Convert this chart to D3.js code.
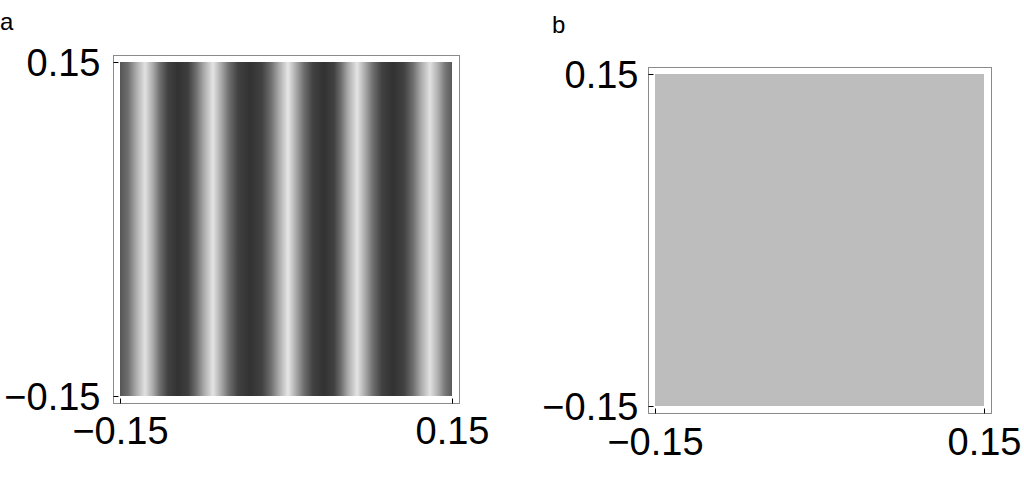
<!DOCTYPE html>
<html>
<head>
<meta charset="utf-8">
<script src="https://cdn.jsdelivr.net/npm/d3@7"></script>
<style>
  html, body { margin: 0; padding: 0; background: #fff; }
  svg { display: block; font-family: "Liberation Sans", Arial, sans-serif; }
</style>
</head>
<body>
<svg id="chart" width="1024" height="488"></svg>
<script>
// ---- data ----
const panelLabels = ["a", "b"];
const axisDomain = [-0.15, 0.15];
const tickValues = [-0.15, 0.15];
const tickLabels = ["\u22120.15", "0.15"];

// panel a: horizontal intensity profile of the vertical fringes (x in data units, gray 0-255)
const fringeX = [-0.1500, -0.1428, -0.1355, -0.1274, -0.1202, -0.1139, -0.1066, -0.0976,
  -0.0886, -0.0813, -0.0741, -0.0660, -0.0587, -0.0515, -0.0434, -0.0325,
  -0.0217, -0.0136, -0.0063, 0.0018, 0.0090, 0.0163, 0.0244, 0.0343,
  0.0434, 0.0497, 0.0560, 0.0642, 0.0714, 0.0786, 0.0867, 0.0967,
  0.1066, 0.1148, 0.1220, 0.1301, 0.1373, 0.1437, 0.1500];
const fringeGray = [85, 110, 170, 225, 170, 110, 65, 50,
  62, 110, 170, 228, 170, 110, 65, 50,
  65, 110, 170, 230, 170, 110, 65, 50,
  65, 110, 170, 228, 170, 110, 65, 50,
  65, 110, 170, 225, 175, 120, 90];

// panel b: uniform intensity
const uniformGray = 189;

// ---- layout ----
const svg = d3.select("#chart");
const defs = svg.append("defs");

const panels = [
  { label: panelLabels[0], lx: 0, ly: 30, x0: 120, x1: 452, y0: 62, y1: 396, pad: 7, ylabGap: 13, xlabBase: 40, kind: "fringe" },
  { label: panelLabels[1], lx: 552, ly: 33, x0: 655, x1: 984, y0: 74, y1: 406, pad: 7, ylabGap: 10, xlabBase: 41, kind: "uniform" }
];

panels.forEach((p, i) => {
  const x = d3.scaleLinear().domain(axisDomain).range([p.x0, p.x1]);
  const y = d3.scaleLinear().domain(axisDomain).range([p.y1, p.y0]);
  const g = svg.append("g");

  // panel letter
  g.append("text").attr("x", p.lx).attr("y", p.ly)
    .attr("font-size", 24).attr("fill", "#000").text(p.label);

  const fx0 = p.x0 - p.pad, fx1 = p.x1 + p.pad, fy0 = p.y0 - p.pad, fy1 = p.y1 + p.pad;

  // image
  if (p.kind === "fringe") {
    const gid = "fringe" + i;
    const grad = defs.append("linearGradient").attr("id", gid)
      .attr("gradientUnits", "userSpaceOnUse")
      .attr("x1", x(axisDomain[0])).attr("x2", x(axisDomain[1]))
      .attr("y1", 0).attr("y2", 0);
    const span = x(axisDomain[1]) - x(axisDomain[0]);
    fringeX.forEach((v, k) => {
      const gv = fringeGray[k];
      grad.append("stop")
        .attr("offset", (x(v) - x(axisDomain[0])) / span)
        .attr("stop-color", d3.rgb(gv, gv, gv).formatHex());
    });
    g.append("rect")
      .attr("x", x(axisDomain[0])).attr("y", y(axisDomain[1]))
      .attr("width", x(axisDomain[1]) - x(axisDomain[0]))
      .attr("height", y(axisDomain[0]) - y(axisDomain[1]))
      .attr("fill", `url(#${gid})`);
  } else {
    g.append("rect")
      .attr("x", x(axisDomain[0])).attr("y", y(axisDomain[1]))
      .attr("width", x(axisDomain[1]) - x(axisDomain[0]))
      .attr("height", y(axisDomain[0]) - y(axisDomain[1]))
      .attr("fill", d3.rgb(uniformGray, uniformGray, uniformGray).formatHex());
  }

  // frame
  g.append("rect")
    .attr("x", fx0 + 0.5).attr("y", fy0 + 0.5)
    .attr("width", fx1 - fx0).attr("height", fy1 - fy0)
    .attr("fill", "none").attr("stroke", "#8a8a8a").attr("stroke-width", 1);

  const fmt = d => tickLabels[tickValues.indexOf(d)];

  // left axis
  const ya = g.append("g").attr("transform", `translate(${fx0 + 0.5},0)`)
    .call(d3.axisLeft(y).tickValues(tickValues).tickFormat(fmt)
      .tickSizeInner(-5).tickSizeOuter(0).tickPadding(p.ylabGap));
  ya.select(".domain").remove();
  ya.selectAll(".tick line").attr("stroke", "#000");
  ya.selectAll(".tick text").attr("font-size", 38).attr("fill", "#000")
    .attr("font-family", "Liberation Sans, Arial, sans-serif").attr("dy", "0.36em");

  // bottom axis
  const xa = g.append("g").attr("transform", `translate(0,${fy1 + 0.5})`)
    .call(d3.axisBottom(x).tickValues(tickValues).tickFormat(fmt)
      .tickSizeInner(-5).tickSizeOuter(0).tickPadding(0));
  xa.select(".domain").remove();
  xa.selectAll(".tick line").attr("stroke", "#000");
  xa.selectAll(".tick text").attr("font-size", 38).attr("fill", "#000")
    .attr("font-family", "Liberation Sans, Arial, sans-serif")
    .attr("dy", null).attr("y", p.xlabBase);
});
</script>
</body>
</html>
